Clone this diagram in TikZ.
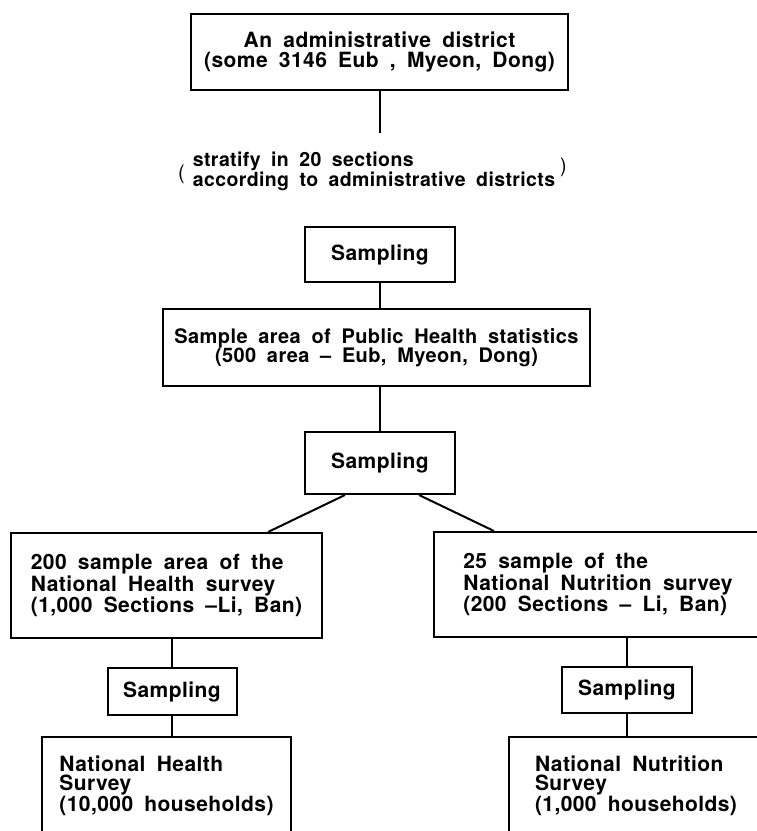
\documentclass[tikz,border=0pt]{standalone}
\usepackage{fontspec}
\setmainfont{TeX Gyre Heros}[WordSpace=1.8,LetterSpace=2]
\usetikzlibrary{positioning}

\begin{document}
\begin{tikzpicture}[x=1pt,y=-1pt,line width=2pt,
        txt/.style={font=\bfseries\fontsize{21}{19.5}\selectfont, inner sep=0pt},
        box/.style={txt, draw, align=center},
        lbox/.style={box, align=left}]
    \useasboundingbox (0,0) rectangle (756,831);

    \node[box, minimum width=377, minimum height=76] (district) at (379.5,52) {An administrative district\\(some 3146 Eub , Myeon, Dong)};
    \coordinate (cut) at (379.5,133);
    \draw (district.south) -- (cut);

    \node[txt, font=\bfseries\fontsize{19.5}{18.5}\selectfont, align=left] (stratify) at (374,171) {stratify in 20 sections\\according to administrative districts};
    \node[txt, font=\fontsize{20}{20}\selectfont, left=6pt of stratify, yshift=-3pt] (lparen) {(};
    \node[txt, font=\fontsize{20}{20}\selectfont, right=3pt of stratify, yshift=4pt] (rparen) {)};

    \node[box, minimum width=150, minimum height=55] (samp1) at (380,254.5) {Sampling};
    \node[box, font=\bfseries\fontsize{20}{19.5}\selectfont, minimum width=427, minimum height=77] (pubhealth) at (376.5,347.5) {Sample area of Public Health statistics\\(500 area -- Eub, Myeon, Dong)};
    \draw (samp1.south) -- (samp1.south |- pubhealth.north);

    \node[box, minimum width=150, minimum height=62] (samp2) at (380,463) {Sampling};
    \draw (samp2.north |- pubhealth.south) -- (samp2.north);

    \node[lbox, minimum width=311, minimum height=105] (healtharea) at (166.5,585.5) {200 sample area of the\\National Health survey\\(1,000 Sections --Li, Ban)};
    \node[lbox, minimum width=328, minimum height=105] (nutriarea) at (598,584.5) {25 sample of the\\National Nutrition survey\\(200 Sections -- Li, Ban)};
    \draw ([xshift=-35pt]samp2.south) -- ([xshift=101.5pt]healtharea.north);
    \draw ([xshift=39pt]samp2.south) -- ([xshift=-104pt]nutriarea.north);

    % left branch
    \node[box, minimum width=129, minimum height=47] (samp3) at (172,691.5) {Sampling};
    \node[lbox, minimum width=249, minimum height=97] (healthsurvey) at (166.5,785.5) {National Health\\Survey\\(10,000 households)};
    \draw (samp3.north |- healtharea.south) -- (samp3.north);
    \draw (samp3.south) -- (samp3.south |- healthsurvey.north);

    % right branch
    \node[box, minimum width=130, minimum height=46] (samp4) at (627,690) {Sampling};
    \node[lbox, minimum width=254, minimum height=97] (nutrisurvey) at (636,785.5) {National Nutrition\\Survey\\(1,000 households)};
    \draw (samp4.north |- nutriarea.south) -- (samp4.north);
    \draw (samp4.south) -- (samp4.south |- nutrisurvey.north);
\end{tikzpicture}
\end{document}
